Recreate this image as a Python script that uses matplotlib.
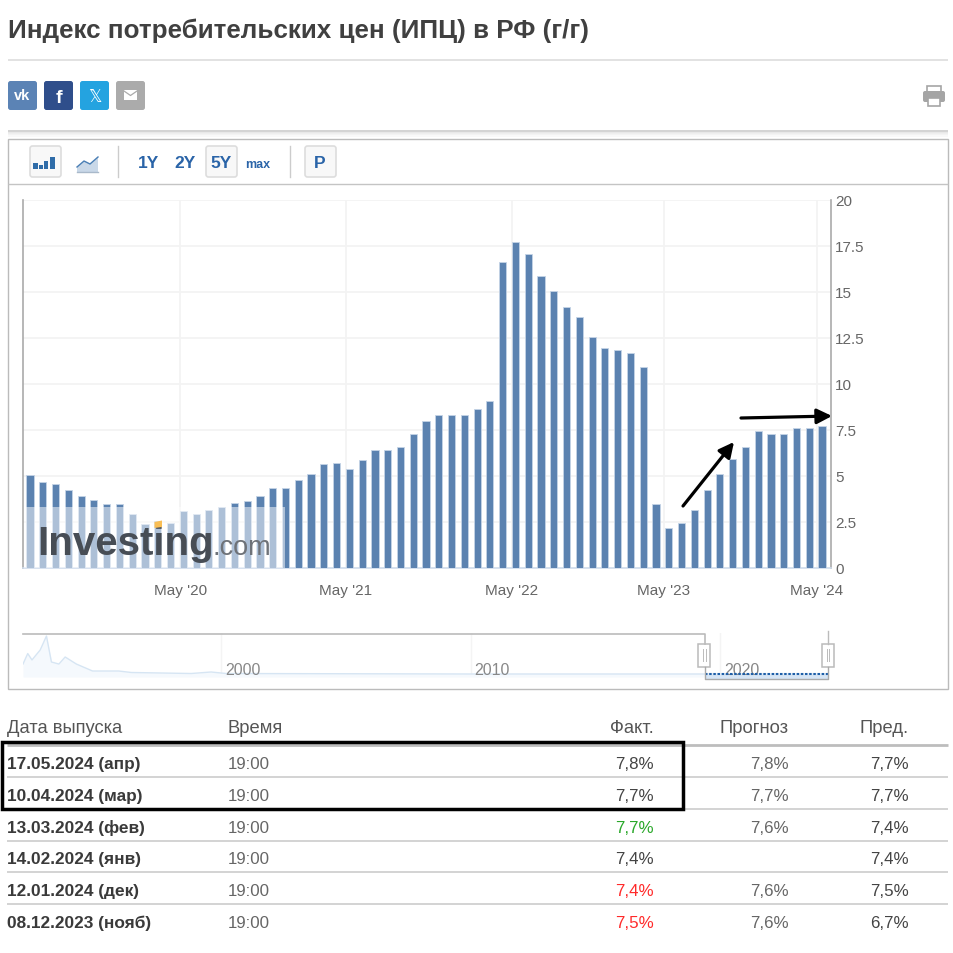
import matplotlib
matplotlib.use('Agg')
import matplotlib.pyplot as plt
from matplotlib.patches import FancyBboxPatch, Rectangle, Polygon

plt.rcParams['font.family'] = ['Liberation Sans', 'DejaVu Sans']

# CPI y/y, monthly bars
cpi = [5.04, 4.66, 4.57, 4.26, 3.93, 3.7, 3.46, 3.46, 2.92, 2.4, 2.57, 2.45,
       3.08, 2.92, 3.15, 3.3, 3.55, 3.62, 3.93, 4.33, 4.33, 4.8, 5.13, 5.67,
       5.7, 5.4, 5.87, 6.41, 6.41, 6.6, 7.28, 7.99, 8.31, 8.31, 8.31, 8.62,
       9.09, 16.65, 17.73, 17.05, 15.85, 15.07, 14.2, 13.66, 12.57, 11.94,
       11.87, 11.7, 10.9, 3.46, 2.2, 2.45, 3.15, 4.26, 5.1, 5.9, 6.6, 7.46,
       7.3, 7.3, 7.63, 7.63, 7.7]
month_ticks = [11.75, 24.7, 37.7, 49.6, 61.6]
month_labels = ["May '20", "May '21", "May '22", "May '23", "May '24"]
y_ticks = [0, 2.5, 5, 7.5, 10, 12.5, 15, 17.5, 20]
y_labels = ['0', '2.5', '5', '7.5', '10', '12.5', '15', '17.5', '20']

# long history for the navigator strip
nav_years = [1992.06, 1992.25, 1992.42, 1992.75, 1993.0, 1993.2, 1993.5, 1993.75,
             1994.2, 1994.85, 1995.9, 1996.4, 1998.8, 1999.6, 2000.2, 2010, 2019.4, 2024.3]
nav_values = [790, 1430, 1040, 1650, 2500, 915, 790, 1220, 790, 365, 365, 275,
              213, 305, 213, 183, 183, 183]
nav_ticks = [2000, 2010, 2020]

headers = ['Дата выпуска', 'Время', 'Факт.', 'Прогноз', 'Пред.']
dates = ['17.05.2024 (апр)', '10.04.2024 (мар)', '13.03.2024 (фев)',
         '14.02.2024 (янв)', '12.01.2024 (дек)', '08.12.2023 (нояб)']
times = ['19:00'] * 6
actual = ['7,8%', '7,7%', '7,7%', '7,4%', '7,4%', '7,5%']
actual_colors = ['#444444', '#444444', '#2AA82A', '#444444', '#FF2A2A', '#FF2A2A']
forecast = ['7,8%', '7,7%', '7,6%', '', '7,6%', '7,6%']
previous = ['7,7%', '7,7%', '7,4%', '7,4%', '7,5%', '6,7%']

SIZE = 954
fig = plt.figure(figsize=(SIZE / 100, SIZE / 100), dpi=100, facecolor='white')


def px_axes(left, top, right, bottom, **kw):
    return fig.add_axes([left / SIZE, 1 - bottom / SIZE, (right - left) / SIZE, (bottom - top) / SIZE], **kw)


# main bars
ax = px_axes(23, 201, 831, 569)
ax.bar(range(len(cpi)), cpi, width=0.56, color='#5B82B0', edgecolor='#C5D4E6', linewidth=0.6, zorder=3)
ax.set_xlim(-0.55, 62.7)
ax.set_ylim(0, 20)
ax.yaxis.tick_right()
ax.set_yticks(y_ticks, y_labels)
ax.set_xticks(month_ticks, month_labels)
ax.tick_params(length=0, labelsize=11, labelcolor='#666666')
ax.tick_params(axis='x', pad=11)
ax.tick_params(axis='y', pad=3)
ax.grid(color='#F3F3F3', lw=1.3, zorder=0)
ax.set_axisbelow(True)
for s in ['left', 'right']:
    ax.spines[s].set_color('#AAAAAA')
    ax.spines[s].set_linewidth(1.2)
ax.spines['top'].set_visible(False)
ax.spines['bottom'].set_color('#CFDCEC')
ax.spines['bottom'].set_linewidth(1.2)

# navigator
nav = px_axes(23, 634, 828, 678)
nav.fill_between(nav_years, nav_values, color='#F5F9FD', lw=0)
nav.plot(nav_years, nav_values, color='#D6E5F3', lw=1)
nav.set_xlim(1992.06, 2024.33)
nav.set_ylim(0, 2684)
nav.set_xticks(nav_ticks, [])
nav.set_yticks([])
nav.tick_params(length=0)
nav.grid(axis='x', color='#F4F4F4', lw=1)
nav.set_axisbelow(True)
for s in nav.spines.values():
    s.set_visible(False)
nav.patch.set_alpha(0)
for yr in nav_ticks:
    nav.annotate(str(yr), (yr, 0), xytext=(4, 3), textcoords='offset pixels', fontsize=11.5, color='#888888')

# overlay in pixel coordinates for page furniture
ov = fig.add_axes([0, 0, 1, 1], zorder=5)
ov.set_xlim(0, SIZE)
ov.set_ylim(SIZE, 0)
ov.axis('off')
ov.patch.set_alpha(0)


def hline(y, x0=8, x1=948, color='#CCCCCC', lw=1.0):
    ov.plot([x0, x1], [y, y], color=color, lw=lw, solid_capstyle='butt')


def txt(x, y, s, size=12, color='#444444', ha='left', weight='normal', **kw):
    ov.text(x, y, s, fontsize=size, color=color, ha=ha, va='baseline', weight=weight, **kw)


def button(x0, y0, x1, y1, face, edge='none', lw=1.0, r=2.5):
    ov.add_patch(FancyBboxPatch((x0 + r, y0 + r), x1 - x0 - 2 * r, y1 - y0 - 2 * r,
                                boxstyle=f'round,pad={r},rounding_size={r}', fc=face, ec=edge, lw=lw))


# heading
txt(8, 38, 'Индекс потребительских цен (ИПЦ) в РФ (г/г)', size=18.7, color='#404040', weight='bold')
hline(61, color='#DDDDDD', lw=1.2)

# share buttons
button(8, 82, 37, 111, '#5B83B5')
button(44, 82, 73, 111, '#2F4E8B')
button(80, 82, 109, 111, '#24A3E0')
button(116, 82, 145, 111, '#ABABAB')
txt(22.5, 100, 'vk', size=10.5, color='white', ha='center', weight='bold')
txt(58.5, 103, 'f', size=14, color='white', ha='center', weight='bold')
ov.text(94.5, 102, '\U0001D54F', fontsize=12, color='white', ha='center', va='baseline', family='DejaVu Sans')
ov.add_patch(Rectangle((124, 91), 13, 10, fc='white', ec='none'))
ov.plot([124, 130.5, 137], [92, 96.5, 92], color='#ABABAB', lw=0.9)

# print icon
ov.add_patch(Rectangle((927, 87), 14, 6, fc='white', ec='#A5A5A5', lw=1.2))
button(923, 92, 945, 103, '#A5A5A5', r=2)
ov.add_patch(Rectangle((928, 99), 12, 7.5, fc='white', ec='#A5A5A5', lw=1.2))

# outer box, shadow and toolbar
for i, c in enumerate(['#C8C8C8', '#E2E2E2', '#F0F0F0', '#F8F8F8']):
    hline(132 + i * 1.5, color=c, lw=1.1)
ov.add_patch(Rectangle((8, 140), 940, 550, fc='none', ec='#BBBBBB', lw=1.0, zorder=0.5))
hline(185, color='#C4C4C4', lw=1.0)
button(30, 147, 61, 178, '#F8F8F8', '#DDDDDD', 1.2)
button(206, 147, 237, 178, '#F8F8F8', '#DDDDDD', 1.2)
button(305, 147, 336, 178, '#F8F8F8', '#DDDDDD', 1.2)
for bx, by, bw in [(33.5, 164, 4.5), (39.5, 166, 3.5), (44.5, 162, 4), (50, 158, 5.5)]:
    ov.add_patch(Rectangle((bx, by), bw, 170 - by, fc='#2F6CA8', ec='none'))
ov.add_patch(Polygon([(77, 168), (84, 162), (90, 165), (98, 158), (98, 173), (77, 173)], fc='#C9D8E8', ec='none'))
ov.plot([77, 84, 90, 98], [168, 162, 165, 158], color='#4A7FB5', lw=1)
ov.plot([77, 98], [173, 173], color='#A9B9CA', lw=1)
ov.plot([118, 118], [147, 178], color='#CCCCCC', lw=1)
ov.plot([290, 290], [147, 178], color='#CCCCCC', lw=1)
for cx, s, fs in [(148.5, '1Y', 12.5), (185, '2Y', 12.5), (221.5, '5Y', 12.5), (258, 'max', 9), (320, 'P', 12.5)]:
    txt(cx, 168, s, size=fs, color='#2A64A8', ha='center', weight='bold')

# watermark
ov.add_patch(Rectangle((24, 508), 261, 60.5, fc='white', alpha=0.5, ec='none'))
txt(37, 555, 'Investing', size=29, color='#474D55', weight='bold')
txt(213, 555, '.com', size=19.5, color='#6E7278')
ov.add_patch(Polygon([(154.5, 523), (162, 521.5), (162, 528), (154.5, 529)], fc='#F9BE55', ec='none', zorder=4))

# arrows
arrow = dict(arrowstyle='-|>,head_length=0.9,head_width=0.45', color='black', lw=2.3, shrinkA=0, shrinkB=0)
ov.annotate('', xy=(734, 443), xytext=(683, 507), arrowprops=arrow)
ov.annotate('', xy=(832, 417), xytext=(741, 419), arrowprops=arrow)

# navigator handles
ov.plot([23, 705, 705], [634.5, 634.5, 645], color='#BBBBBB', lw=1.2)
ov.plot([828, 828], [632, 645], color='#BBBBBB', lw=1.0)
ov.add_patch(Rectangle((705, 675.5), 123, 4.5, fc='#D6E5F5', ec='none', zorder=0.8))
ov.plot([705, 828], [675, 675], color='#1F5FA8', lw=1.5, ls=(0, (1.2, 0.8)))
ov.plot([705, 705, 828, 828], [668, 680, 680, 668], color='#AAAAAA', lw=1)
for hx in (704.5, 828):
    ov.add_patch(Rectangle((hx - 6, 645), 12, 23, fc='white', ec='#BBBBBB', lw=1.1))
    ov.plot([hx - 1.2, hx - 1.2], [650, 662], color='#BBBBBB', lw=0.7)
    ov.plot([hx + 1.2, hx + 1.2], [650, 662], color='#BBBBBB', lw=0.7)

# table
col_left = [7, 228]
col_right = [654, 789, 909]
head_size = 13.2
txt(col_left[0], 733, headers[0], color='#555555', size=head_size)
txt(col_left[1], 733, headers[1], color='#555555', size=head_size)
for cx, h in zip(col_right, headers[2:]):
    txt(cx, 733, h, color='#555555', ha='right', size=head_size)
hline(746, x0=7, color='#BDBDBD', lw=2)
row_base = [769, 801, 833, 864.5, 896.5, 928]
row_line = [778, 810, 841.7, 873, 905]
for y in row_line:
    hline(y, x0=7, color='#C8C8C8', lw=1.1)
for i, yb in enumerate(row_base):
    txt(col_left[0], yb, dates[i], color='#3A3A3A', weight='bold', size=12.4)
    txt(col_left[1], yb, times[i], color='#666666', size=12.2)
    txt(col_right[0], yb, actual[i], color=actual_colors[i], ha='right', size=12.2)
    txt(col_right[1], yb, forecast[i], color='#666666', ha='right', size=12.2)
    txt(col_right[2], yb, previous[i], color='#444444', ha='right', size=12.2)

# black frame round the two latest rows
ov.add_patch(Rectangle((2.5, 743), 680.5, 67, fc='none', ec='black', lw=2.5, zorder=6))

fig.savefig('out.png', dpi=100)
